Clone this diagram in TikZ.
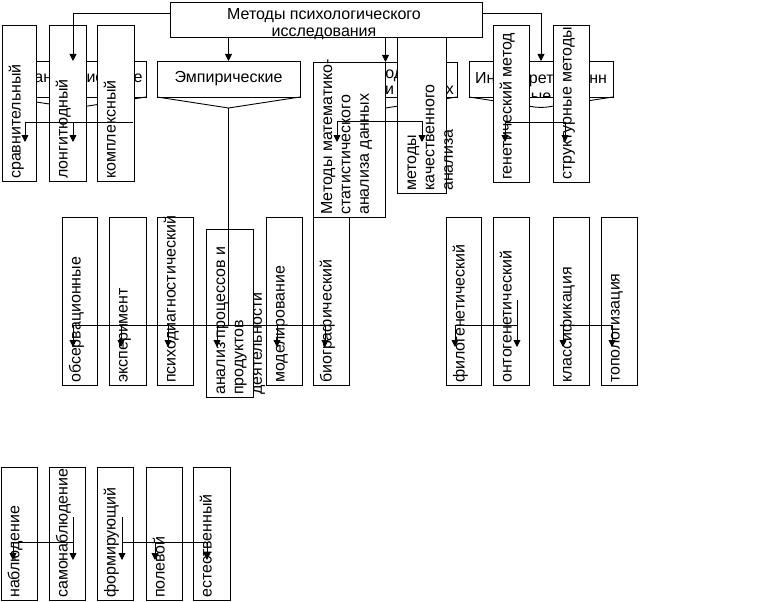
\documentclass[tikz,border=0pt]{standalone}
\usepackage{fontspec}
\setmainfont{Liberation Sans}
\usetikzlibrary{arrows.meta}
\tikzset{
  box/.style={draw, fill=white, line width=0.9pt, inner sep=0pt, outer sep=0pt},
  cbox/.style={draw, fill=white, line width=0.9pt, inner sep=0pt, outer sep=0pt},
  vtxt/.style={rotate=90, anchor=base west, inner sep=0pt, font=\fontsize{16}{18}\selectfont},
  htxt/.style={anchor=base, inner sep=0pt, font=\fontsize{16}{18}\selectfont},
  ln/.style={line width=0.9pt},
  arr/.style={line width=0.9pt, -{Triangle[width=7pt,length=7pt]}},
}
\newcommand{\bx}[6][box]{\node[#1, minimum width={(#5)-(#3)}, minimum height={(#6)-(#4)}] (#2) at ({((#3)+(#5))/2},{((#4)+(#6))/2}) {};}
\newcommand{\vt}[4]{\node[vtxt] (#1) at (#2,#3) {#4};}
\newcommand{\dn}[3]{\draw[arr] (#1,#2) -- (#1,#3);}
\begin{document}
\begin{tikzpicture}[x=1pt,y=-1pt]
\useasboundingbox (0,0) rectangle (758,602);
% ---- category boxes (behind)
\bx[cbox]{org}{4}{61}{146}{97}
\node[htxt] (orgt) at (75,83) {Организационные};
\draw[ln] (org.south west) -- (75,108) -- (org.south east);
\bx[cbox]{emp}{157}{61}{300}{97}
\node[htxt] (empt) at (228.5,83) {Эмпирические};
\draw[ln] (emp.south west) -- (228.5,108) -- (emp.south east);
\bx[cbox]{obr}{314}{62}{457}{97}
\node[htxt] (obr1) at (385.5,78) {Методы};
\node[htxt] (obr2) at (385.5,95) {обработки данных};
\draw[ln] (obr.south west) -- (385.5,108) -- (obr.south east);
\bx[cbox]{int}{469}{61}{613}{97}
\begin{scope}
\clip (int.north west) rectangle (int.south east);
\node[htxt] (int1) at (541,84) {Интерпретационн};
\node[htxt] (int2) at (541,102) {ые};
\end{scope}
\draw[ln, rounded corners=7pt] (int.south west) -- (541,108) -- (int.south east);
% ---- row 1 vertical boxes
\bx{srav}{2}{25}{36}{181} \vt{sravt}{20.5}{179}{сравнительный}
\bx{longi}{49}{25}{86}{181} \vt{longit}{67.5}{179}{лонгитюдный}
\bx{kompl}{97}{25}{134}{181} \vt{komplt}{115.5}{179}{комплексный}
\bx{mat}{313}{62}{385}{217}
\vt{mat1}{332}{215}{Методы математико-}
\vt{mat2}{350.4}{215}{статистического}
\vt{mat3}{368.8}{215}{анализа данных}
\bx{kach}{397}{25}{446}{193}
\vt{kach1}{416}{191}{методы}
\vt{kach2}{434.4}{191}{качественного}
\vt{kach3}{452.8}{191}{анализа}
\bx{gen}{493}{25}{529}{182} \vt{gent}{511.5}{180}{генетический метод}
\bx{str}{553}{25}{589}{182} \vt{strt}{571.5}{180}{структурные методы}
% ---- top box
\bx{T}{170}{2}{482}{37}
\node[htxt] (t1) at (324,20) {Методы психологического};
\node[htxt] (t2) at (324,37) {исследования};
% ---- row 2
\bx{obs}{62}{217}{97}{385} \vt{obst}{80.5}{383}{обсервационные}
\bx{exp}{109}{217}{146}{385} \vt{expt}{127.5}{383}{эксперимент}
\bx{psy}{157}{217}{193}{385} \vt{psyt}{175.5}{383}{психодиагностический}
\bx{ana}{206}{229}{253}{397}
\vt{ana1}{225}{395}{анализ процессов и}
\vt{ana2}{243.4}{395}{продуктов}
\vt{ana3}{261.8}{395}{деятельности}
\bx{mod}{266}{217}{302}{385} \vt{modt}{284.5}{383}{моделирование}
\bx{bio}{313}{217}{349}{385} \vt{biot}{331.5}{383}{биографический}
\bx{fil}{446}{217}{481}{385} \vt{filt}{464.5}{383}{филогенетический}
\bx{ont}{493}{217}{529}{385} \vt{ontt}{511.5}{383}{онтогенетический}
\bx{kla}{553}{217}{589}{385} \vt{klat}{571.5}{383}{классификация}
\bx{top}{601}{217}{637}{385} \vt{topt}{619.5}{383}{топологизация}
% ---- row 3
\bx{nab}{1}{467}{37}{600} \vt{nabt}{19.5}{598}{наблюдение}
\bx{sam}{49}{467}{85}{600} \vt{samt}{67.5}{598}{самонаблюдение}
\bx{form}{97}{467}{133}{600} \vt{formt}{115.5}{598}{формирующий}
\bx{pol}{146}{467}{182}{600} \vt{polt}{164.5}{598}{полевой}
\bx{est}{193}{467}{230}{600} \vt{estt}{211.5}{598}{естественный}
% ---- connectors from top box
\coordinate (oa) at (73,13);
\draw[arr] ([yshift=6.5pt]T.west) -| (oa |- org.north);
\draw[arr] (T.south -| emp.north) -- (emp.north);
\draw[arr] (T.south -| obr.north) -- (obr.north);
\draw[arr] ([yshift=6.5pt]T.east) -| (int.north);
% organisational group
\draw[ln] (25,122) -- (133,122);
\dn{25}{122}{142} \dn{73}{122}{142}
% empirical group
\draw[ln] (228.5,108) -- (228.5,325);
\draw[ln] (72,325) -- (333,325);
\dn{73}{325}{347} \dn{121}{325}{347} \dn{168}{325}{347}
\dn{217}{325}{347} \dn{277}{325}{347} \dn{325}{325}{347}
% data processing group
\draw[ln] (337,121) -- (422,121);
\dn{337}{121}{142} \dn{422}{121}{142}
% interpretational group
\draw[ln] (505,122) -- (565,122);
\dn{505}{122}{142} \dn{565}{122}{142}
% genetic / structural
\draw[ln] (455,325) -- (517,325);
\dn{455}{325}{347} \dn{517}{300}{347}
\draw[ln] (563,325) -- (612,325);
\dn{563}{325}{347} \dn{612}{325}{347}
% row 3
\draw[ln] (13,542) -- (73,542);
\dn{13}{542}{560} \dn{73}{517}{560}
\draw[ln] (122,542) -- (207,542);
\dn{122}{517}{560} \dn{155}{542}{560} \dn{207}{542}{560}
\end{tikzpicture}
\end{document}
